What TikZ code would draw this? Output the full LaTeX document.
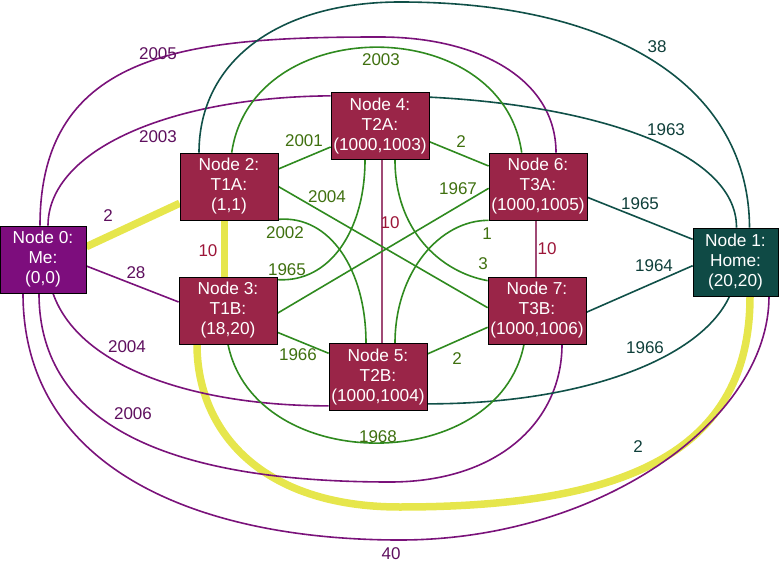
\documentclass[tikz,border=0pt]{standalone}
\usepackage{fontspec}
\setmainfont{Liberation Sans}
\usepackage{tikz}
\usetikzlibrary{positioning, backgrounds}
\usepackage{xcolor}
\definecolor{mepurple}{HTML}{7D0D7D}
\definecolor{tiercrimson}{HTML}{9A2548}
\definecolor{hometeal}{HTML}{0F4A45}
\definecolor{edgepurple}{HTML}{7A127A}
\definecolor{edgegreen}{HTML}{2F8A1F}
\definecolor{edgeteal}{HTML}{105048}
\definecolor{edgecrimson}{HTML}{A04A75}
\definecolor{hilite}{HTML}{E6E64C}
\definecolor{lblpurple}{HTML}{5E0F5E}
\definecolor{lblgreen}{HTML}{3F700F}
\definecolor{lblteal}{HTML}{0F3F3A}
\definecolor{lblcrimson}{HTML}{9C1538}

\begin{document}
\begin{tikzpicture}[x=1pt, y=1pt,
    box/.style={rectangle, draw=black, line width=0.7pt, text=white, align=center,
      inner sep=0pt, minimum width=98pt, minimum height=67pt,
      font=\fontsize{17.3}{20}\selectfont},
    lbl/.style={inner sep=1pt, font=\fontsize{17}{18}\selectfont},
    pedge/.style={draw=edgepurple, line width=1.6pt},
    gedge/.style={draw=edgegreen, line width=1.6pt},
    tedge/.style={draw=edgeteal, line width=1.6pt},
    cedge/.style={draw=edgecrimson, line width=2pt},
    hedge/.style={draw=hilite, line width=7.5pt}]
\useasboundingbox (0,0) rectangle (779,582);

% nodes
\node[box, fill=mepurple, minimum width=86pt] (me) at (43,322.5) {Node 0:\\Me:\\(0,0)};
\node[box, fill=hometeal, minimum width=85pt, minimum height=68pt] (home) at (735.5,320) {Node 1:\\Home:\\(20,20)};
\node[box, fill=tiercrimson] (t1a) at (229,395.5) {Node 2:\\T1A:\\(1,1)};
\node[box, fill=tiercrimson] (t1b) at (228,271.5) {Node 3:\\T1B:\\(18,20)};
\node[box, fill=tiercrimson] (t2a) at (380,456) {Node 4:\\T2A:\\(1000,1003)};
\node[box, fill=tiercrimson] (t2b) at (378,205) {Node 5:\\T2B:\\(1000,1004)};
\node[box, fill=tiercrimson] (t3a) at (538,395.5) {Node 6:\\T3A:\\(1000,1005)};
\node[box, fill=tiercrimson] (t3b) at (537,271.5) {Node 7:\\T3B:\\(1000,1006)};

\begin{scope}[on background layer]
% highlighted route
\draw[hedge] ([yshift=12.8pt]me.east) -- ([yshift=-16.8pt]t1a.west);
\draw[hedge] ([xshift=-4.7pt]t1a.south) -- ([xshift=-3.7pt]t1b.north);
\draw[hedge] ([xshift=-31pt]t1b.south) .. controls (197,152) and (260,75) .. (400,75)
  .. controls (630,75) and (750,132) .. ([xshift=14.5pt]home.south);

% from Me
\draw[pedge] ([yshift=-6.5pt]me.east) -- ([yshift=8.5pt]t1b.west);
\draw[pedge] ([xshift=5pt]me.north) .. controls (48,432) and (170,485) .. ([yshift=-3.7pt]t2a.north west);
\draw[pedge] ([xshift=-3pt]me.north) .. controls (40,532) and (190,545) .. (380,545)
  .. controls (480,545) and (556,502) .. ([xshift=18pt]t3a.north);
\draw[pedge] ([xshift=10pt]me.south) .. controls (80,212) and (200,176) .. ([yshift=5pt]t2b.south west);
\draw[pedge] ([xshift=-4pt]me.south) .. controls (39,142) and (200,100) .. (390,100)
  .. controls (500,100) and (562,162) .. ([xshift=25pt]t3b.south);
\draw[pedge] ([xshift=-20pt]me.south) .. controls (23,112) and (200,42) .. (400,42)
  .. controls (600,42) and (769,162) .. ([xshift=33.5pt]home.south);

% to Home
\draw[tedge] ([xshift=-30pt]t1a.north) .. controls (199,522) and (280,580) .. (400,580)
  .. controls (620,580) and (749,492) .. ([xshift=14pt]home.north);
\draw[tedge] ([yshift=-5pt]t2a.north east) .. controls (590,477) and (737,432) .. ([xshift=1pt]home.north);
\draw[tedge] ([yshift=-10.8pt]t3a.east) -- ([yshift=22.7pt]home.west);
\draw[tedge] ([yshift=-1.8pt]t3b.east) -- ([yshift=-3.7pt]home.west);
\draw[tedge] ([yshift=7pt]t2b.south east) .. controls (580,178) and (700,222) .. ([xshift=-6pt]home.south);

% inside a tier
\draw[cedge] ([xshift=1.5pt]t2a.south) -- ([xshift=3.5pt]t2b.north);
\draw[cedge] ([xshift=-2pt]t3a.south) -- ([xshift=-1pt]t3b.north);

% between tiers
\draw[gedge] ([yshift=17.5pt]t1a.east) -- ([yshift=-21pt]t2a.west);
\draw[gedge] ([yshift=-15.7pt]t2a.east) -- ([yshift=20.5pt]t3a.west);
\draw[gedge] (t1a.east) -- ([yshift=2.8pt]t3b.west);
\draw[gedge] ([yshift=-2.8pt]t1b.east) -- ([yshift=-1.8pt]t3a.west);
\draw[gedge] ([yshift=-21.8pt]t1b.east) -- ([yshift=23.7pt]t2b.west);
\draw[gedge] ([yshift=23pt]t2b.east) -- ([yshift=-16.8pt]t3b.west);
\draw[gedge] ([yshift=1pt]t1a.south east) .. controls (330,367) and (366,312) .. ([xshift=-12pt]t2b.north);
\draw[gedge] ([yshift=-3pt]t1b.north east) .. controls (330,299) and (365,352) .. ([xshift=-15pt]t2a.south);
\draw[gedge] ([xshift=15pt]t2a.south) .. controls (395,352) and (440,310) .. ([yshift=-4pt]t3b.north west);
\draw[gedge] ([xshift=17pt]t2b.north) .. controls (395,310) and (440,362) .. (t3a.south west);
\draw[gedge] ([xshift=2.7pt]t1a.north) .. controls (252,570) and (502,570) .. ([xshift=-16.3pt]t3a.north);
\draw[gedge] (t1b.south) .. controls (255,106) and (498,106) .. ([xshift=-13pt]t3b.south);
\end{scope}

% labels
\node[lbl, text=lblpurple] (l02) at (108,366) {2};
\node[lbl, text=lblpurple] (l03) at (136,309) {28};
\node[lbl, text=lblpurple] (l04) at (158,445) {2003};
\node[lbl, text=lblpurple] (l06) at (158,528) {2005};
\node[lbl, text=lblpurple] (l05) at (127,235) {2004};
\node[lbl, text=lblpurple] (l07) at (133,168) {2006};
\node[lbl, text=lblpurple] (l01) at (391,28) {40};

\node[lbl, text=lblcrimson] (l23) at (208,331) {10};
\node[lbl, text=lblcrimson] (l45) at (390,359) {10};
\node[lbl, text=lblcrimson] (l67) at (547,333) {10};

\node[lbl, text=lblgreen] (l24) at (304,441) {2001};
\node[lbl, text=lblgreen] (l46) at (461,440) {2};
\node[lbl, text=lblgreen] (l27) at (327,385) {2004};
\node[lbl, text=lblgreen] (l36) at (458,393) {1967};
\node[lbl, text=lblgreen] (l25) at (285,349) {2002};
\node[lbl, text=lblgreen] (l34) at (287,312) {1965};
\node[lbl, text=lblgreen] (l56) at (487,348) {1};
\node[lbl, text=lblgreen] (l47) at (483,318) {3};
\node[lbl, text=lblgreen] (l35) at (298,227) {1966};
\node[lbl, text=lblgreen] (l57) at (457,223) {2};
\node[lbl, text=lblgreen] (l26) at (381,522) {2003};
\node[lbl, text=lblgreen] (l37) at (378,145) {1968};

\node[lbl, text=lblteal] (l12) at (657,535) {38};
\node[lbl, text=lblteal] (l14) at (666,452) {1963};
\node[lbl, text=lblteal] (l16) at (640,378) {1965};
\node[lbl, text=lblteal] (l17) at (654,316) {1964};
\node[lbl, text=lblteal] (l15) at (645,234) {1966};
\node[lbl, text=lblteal] (l13) at (638,135) {2};
\end{tikzpicture}
\end{document}
